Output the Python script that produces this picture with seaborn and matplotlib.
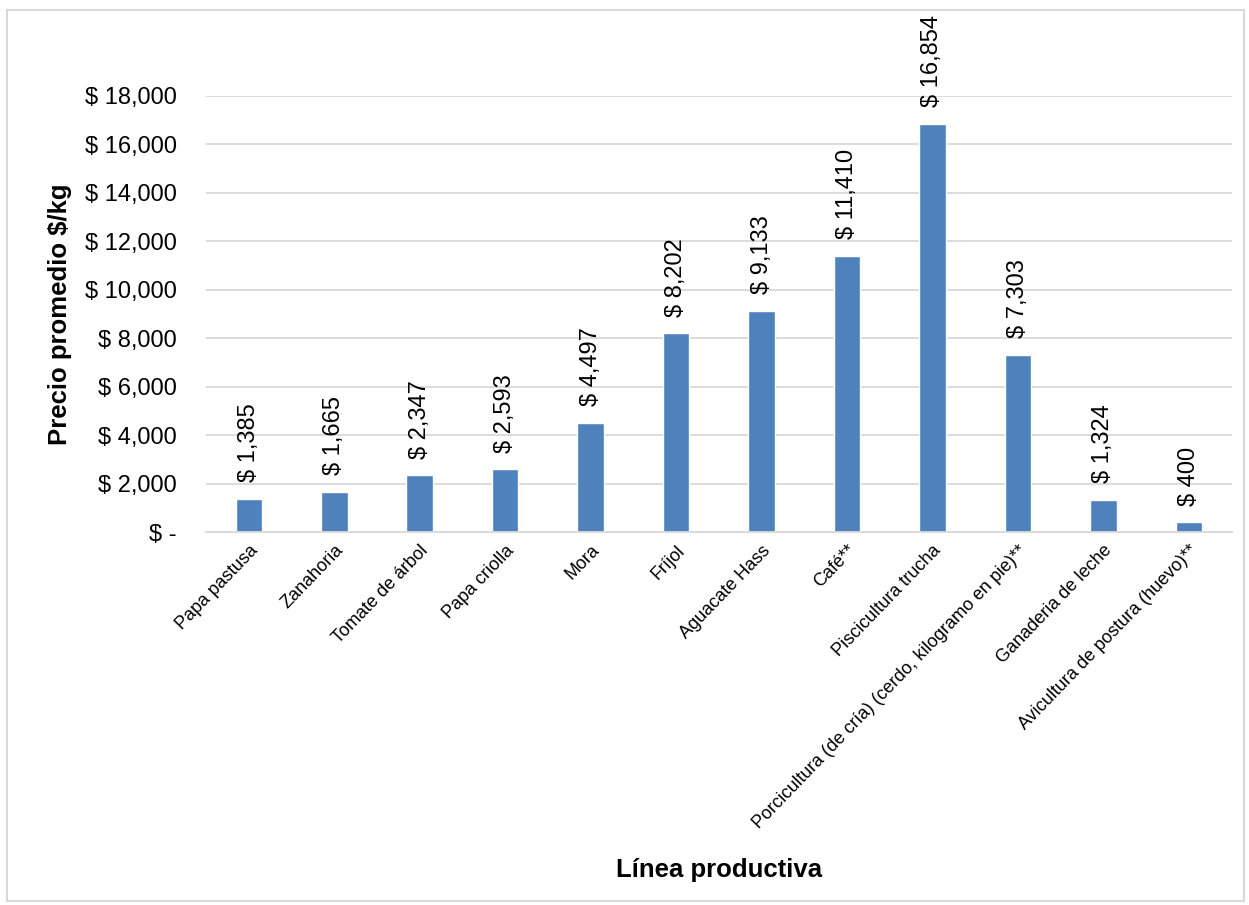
import pandas as pd
import numpy as np
import seaborn as sns
import matplotlib.pyplot as plt
from matplotlib.patches import Rectangle
from matplotlib.ticker import FuncFormatter


lineas = ['Papa pastusa', 'Zanahoria', 'Tomate de árbol', 'Papa criolla', 'Mora', 'Fríjol',
          'Aguacate Hass', 'Café**', 'Piscicultura trucha',
          'Porcicultura (de cría) (cerdo, kilogramo en pie)**', 'Ganaderia de leche',
          'Avicultura de postura (huevo)**']
precios = [1385, 1665, 2347, 2593, 4497, 8202, 9133, 11410, 16854, 7303, 1324, 400]
y_ticks = [0, 2000, 4000, 6000, 8000, 10000, 12000, 14000, 16000, 18000]


def money(v, pos=None):
    if v == 0:
        return '$ -'
    return f'$ {v:,.0f}'


sns.set_theme(style='white')
plt.rcParams['font.family'] = ['Liberation Sans', 'DejaVu Sans']
plt.rcParams['text.color'] = 'black'
plt.rcParams['axes.labelcolor'] = 'black'

df = pd.DataFrame({'linea': lineas, 'precio': precios})

fig = plt.figure(figsize=(12.49, 9.05), dpi=100)
ax = fig.add_axes([0.165, 0.412, 0.821, 0.482])

sns.barplot(data=df, x='linea', y='precio', color='#4f81bd', width=0.31, ax=ax, saturation=1)

# etiquetas de valor, verticales sobre cada barra
for i, v in enumerate(precios):
    ax.annotate(money(v), (i, v), xytext=(0, 12), textcoords='offset points',
                rotation=90, ha='center', va='bottom', fontsize=17, color='black')

ax.set_ylim(0, 18000)
ax.set_yticks(y_ticks)
ax.yaxis.set_major_formatter(FuncFormatter(money))
ax.grid(axis='y', color='#d9d9d9', linewidth=1.3)
ax.set_axisbelow(True)
for s in ['top', 'right', 'left']:
    ax.spines[s].set_visible(False)
ax.spines['bottom'].set_color('#d9d9d9')
ax.spines['bottom'].set_linewidth(1.3)
ax.tick_params(axis='y', labelsize=17, pad=21, length=0, labelcolor='black')
ax.tick_params(axis='x', length=0, pad=7, labelcolor='black')
ax.set_xticks(range(len(lineas)))
ax.set_xticklabels(lineas, rotation=46, ha='right', rotation_mode='anchor', fontsize=13)

ax.set_ylabel('Precio promedio $/kg', fontsize=18.5, fontweight='bold', color='black')
ax.yaxis.set_label_coords(-0.131, 0.5)
ax.set_xlabel('Línea productiva', fontsize=18.5, fontweight='bold', color='black')
ax.xaxis.set_label_coords(0.5, -0.746)

fig.patches.append(Rectangle((0.006, 0.004), 0.99, 0.985, transform=fig.transFigure,
                             fill=False, edgecolor='#d9d9d9', linewidth=1.5))

fig.savefig('out.png', dpi=100)
